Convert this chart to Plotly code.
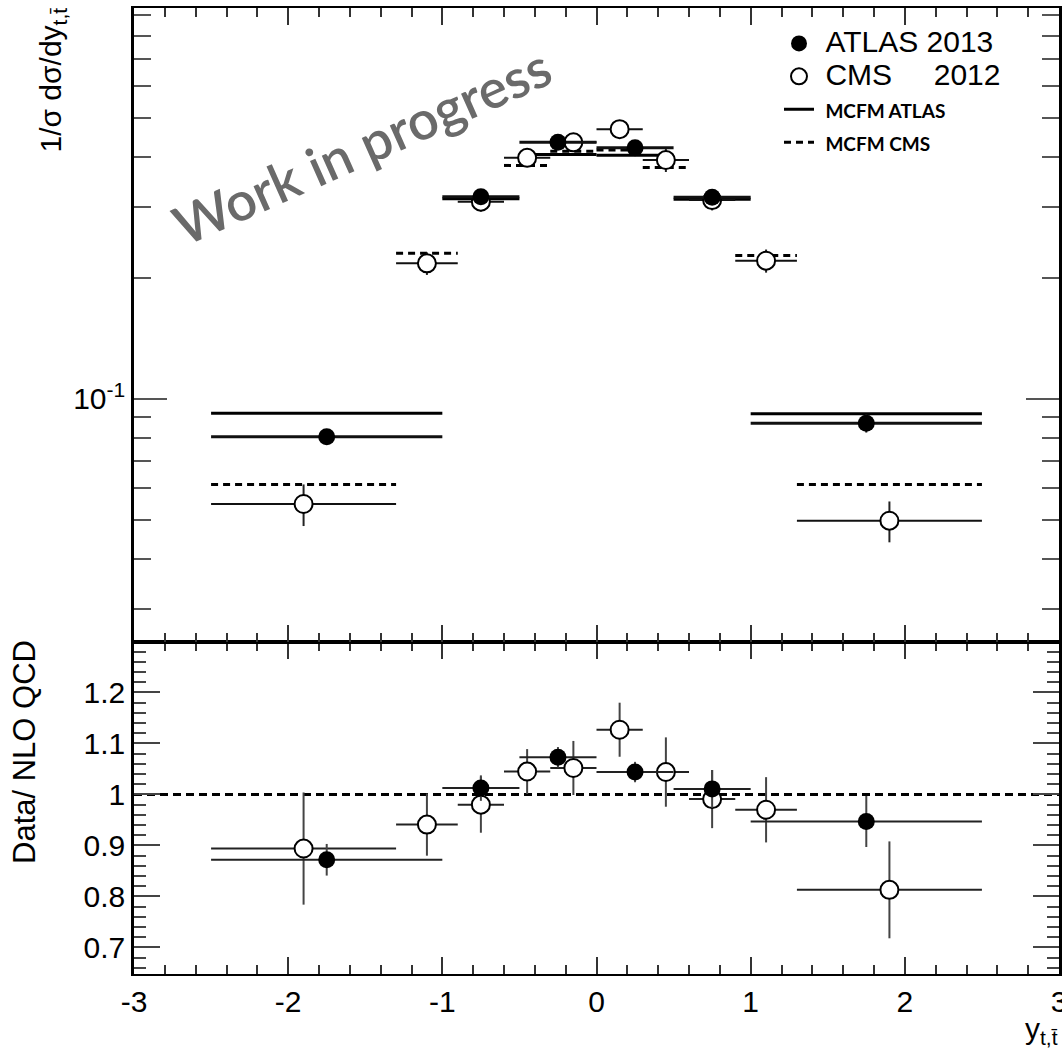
import plotly.graph_objects as go

# ---------------- ATLAS 2013 : normalised dsigma/dy(tt) ----------------
atlas_lo = [-2.5, -1.0, -0.5, 0.0, 0.5, 1.0]
atlas_hi = [-1.0, -0.5, 0.0, 0.5, 1.0, 2.5]
atlas_x = [-1.75, -0.75, -0.25, 0.25, 0.75, 1.75]
atlas_xsec = [0.0806, 0.3186, 0.4350, 0.4218, 0.3175, 0.0870]
atlas_xsec_err = [0.0029, 0.0080, 0.0090, 0.0085, 0.0115, 0.0045]
atlas_ratio = [0.872, 1.0125, 1.073, 1.044, 1.011, 0.947]
atlas_ratio_err = [0.031, 0.025, 0.020, 0.020, 0.037, 0.050]
mcfm_atlas = [0.0921, 0.3147, 0.4054, 0.4040, 0.3140, 0.0919]

# ---------------- CMS 2012 ----------------
cms_lo = [-2.5, -1.3, -0.9, -0.6, -0.3, 0.0, 0.3, 0.6, 0.9, 1.3]
cms_hi = [-1.3, -0.9, -0.6, -0.3, 0.0, 0.3, 0.6, 0.9, 1.3, 2.5]
cms_x = [-1.9, -1.1, -0.75, -0.45, -0.15, 0.15, 0.45, 0.75, 1.1, 1.9]
cms_xsec = [0.0548, 0.2175, 0.3096, 0.3980, 0.4350, 0.4690, 0.3930, 0.3125, 0.2208, 0.0498]
cms_xsec_err = [0.0065, 0.0140, 0.0170, 0.0170, 0.0220, 0.0220, 0.0260, 0.0180, 0.0146, 0.0058]
cms_ratio = [0.894, 0.941, 0.980, 1.045, 1.052, 1.127, 1.044, 0.991, 0.970, 0.813]
cms_ratio_err = [0.110, 0.061, 0.055, 0.044, 0.053, 0.053, 0.068, 0.057, 0.064, 0.095]
mcfm_cms = [0.0613, 0.2303, 0.3160, 0.3810, 0.4135, 0.4160, 0.3765, 0.3153, 0.2276, 0.0613]

# ---------------- axis ticks ----------------
x_tickvals = [-3, -2, -1, 0, 1, 2, 3]
x_ticktext = ["-3", "-2", "-1", "0", "1", "2", "3"]
x_minor = [round(-3 + 0.2 * i, 1) for i in range(31)]
ratio_tickvals = [0.7, 0.8, 0.9, 1.0, 1.1, 1.2]
ratio_ticktext = ["0.7", "0.8", "0.9", "1", "1.1", "1.2"]
ratio_minor = [round(0.66 + 0.02 * i, 2) for i in range(32)]
xsec_tickvals = [0.1]
xsec_ticktext = ["10<sup>-1</sup>"]
xsec_minor = [0.03, 0.04, 0.05, 0.06, 0.07, 0.08, 0.09,
              0.2, 0.3, 0.4, 0.5, 0.6, 0.7, 0.8, 0.9]

W, H = 1062, 1058
ML, MR, MT, MB = 134, 3, 8, 84
PW, PH = W - ML - MR, H - MT - MB
split = (H - MB - 642) / PH  # paper y of the pad boundary


def px(xp):
    return (xp - ML) / PW


def py(yp):
    return 1 - (yp - MT) / PH


def steps(lo, hi, vals):
    xs, ys = [], []
    for a, b, v in zip(lo, hi, vals):
        xs += [a, b, None]
        ys += [v, v, None]
    return xs, ys


def half_widths(x, lo, hi):
    return [h - c for c, h in zip(x, hi)], [c - l for c, l in zip(x, lo)]


FONT = "Liberation Sans, Arial, Helvetica, sans-serif"
BIG = "<span style='font-size:30px'>{}</span>"
BOLD = "<span style='font-family:Lato;font-size:19px;font-weight:900'><b>{}</b></span>"
fig = go.Figure()

# MCFM predictions (upper pad)
mx, my = steps(atlas_lo, atlas_hi, mcfm_atlas)
fig.add_trace(go.Scatter(x=mx, y=my, mode="lines", xaxis="x2", yaxis="y2",
                         line=dict(color="black", width=3),
                         name="\u00a0" + BOLD.format("MCFM ATLAS"), legendrank=3))
cx, cy = steps(cms_lo, cms_hi, mcfm_cms)
fig.add_trace(go.Scatter(x=cx, y=cy, mode="lines", xaxis="x2", yaxis="y2",
                         line=dict(color="black", width=3, dash="7px,5px"),
                         name="\u00a0" + BOLD.format("MCFM CMS"), legendrank=4))

# data points (upper pad)
cp, cm = half_widths(cms_x, cms_lo, cms_hi)
fig.add_trace(go.Scatter(x=cms_x, y=cms_xsec, mode="markers", xaxis="x2", yaxis="y2",
                         marker=dict(symbol="circle", size=18, color="white",
                                     line=dict(color="black", width=2)),
                         error_x=dict(type="data", array=cp, arrayminus=cm, symmetric=False,
                                      width=0, thickness=2, color="#111"),
                         error_y=dict(type="data", array=cms_xsec_err, width=0, thickness=2, color="#222"),
                         name="\u00a0" + BIG.format("CMS\u00a0\u00a0\u00a0\u00a0\u00a02012"), legendrank=2))
ap, am = half_widths(atlas_x, atlas_lo, atlas_hi)
fig.add_trace(go.Scatter(x=atlas_x, y=atlas_xsec, mode="markers", xaxis="x2", yaxis="y2",
                         marker=dict(symbol="circle", size=17, color="black"),
                         error_x=dict(type="data", array=ap, arrayminus=am, symmetric=False,
                                      width=0, thickness=3, color="#111"),
                         error_y=dict(type="data", array=atlas_xsec_err, width=0, thickness=2, color="#222"),
                         name="\u00a0" + BIG.format("ATLAS 2013"), legendrank=1))

# ratio pad
fig.add_trace(go.Scatter(x=cms_x, y=cms_ratio, mode="markers", xaxis="x", yaxis="y",
                         marker=dict(symbol="circle", size=18, color="white",
                                     line=dict(color="black", width=2)),
                         error_x=dict(type="data", array=cp, arrayminus=cm, symmetric=False,
                                      width=0, thickness=2, color="#222"),
                         error_y=dict(type="data", array=cms_ratio_err, width=0, thickness=2, color="#444"),
                         showlegend=False))
fig.add_trace(go.Scatter(x=atlas_x, y=atlas_ratio, mode="markers", xaxis="x", yaxis="y",
                         marker=dict(symbol="circle", size=17, color="black"),
                         error_x=dict(type="data", array=ap, arrayminus=am, symmetric=False,
                                      width=0, thickness=2, color="#222"),
                         error_y=dict(type="data", array=atlas_ratio_err, width=0, thickness=2, color="#444"),
                         showlegend=False))

# unity line in the ratio pad
fig.add_shape(type="line", xref="x domain", yref="y", x0=0, x1=1, y0=1, y1=1,
              line=dict(color="black", width=3, dash="8px,5px"), layer="below")

tickfont = dict(family=FONT, size=30, color="black")
common_x = dict(range=[-3, 3], showline=True, linecolor="black", linewidth=2,
                mirror="ticks", ticks="inside", ticklen=17, tickwidth=2, tickcolor="#333",
                tickmode="array", tickvals=x_tickvals, showgrid=False, zeroline=False,
                automargin=False,
                minor=dict(ticks="inside", ticklen=9, tickwidth=2, tickcolor="#333",
                           tickmode="array", tickvals=x_minor, showgrid=False))

fig.update_layout(
    width=W, height=H,
    margin=dict(l=ML, r=MR, t=MT, b=MB),
    paper_bgcolor="white", plot_bgcolor="white",
    font=dict(family=FONT, size=30, color="black"),
    showlegend=True,
    legend=dict(x=px(779), y=py(22), xanchor="left", yanchor="top",
                bgcolor="rgba(0,0,0,0)", borderwidth=0, tracegroupgap=0,
                font=dict(family=FONT, size=23, color="black"), itemsizing="trace"),
    xaxis=dict(domain=[0, 1], anchor="y", ticktext=x_ticktext, showticklabels=True,
               ticklabeloverflow="allow", tickfont=tickfont, **common_x),
    xaxis2=dict(domain=[0, 1], anchor="y2", matches="x", showticklabels=False, **common_x),
    yaxis=dict(domain=[0, split], anchor="x", range=[0.648, 1.299], automargin=False,
               showline=True, linecolor="black", linewidth=2.5, mirror="ticks",
               ticks="inside", ticklen=26, tickwidth=2, tickcolor="#444",
               tickmode="array", tickvals=ratio_tickvals, ticktext=ratio_ticktext,
               tickfont=tickfont, showgrid=False, zeroline=False,
               minor=dict(ticks="inside", ticklen=12, tickwidth=2, tickcolor="#444",
                          tickmode="array", tickvals=ratio_minor, showgrid=False)),
    yaxis2=dict(domain=[split, 1], anchor="x2", type="log", range=[-1.6045, -0.0274],
                automargin=False,
                showline=True, linecolor="black", linewidth=2.5, mirror="ticks",
                ticks="inside", ticklen=33, tickwidth=2, tickcolor="#555",
                tickmode="array", tickvals=xsec_tickvals, ticktext=xsec_ticktext,
                tickfont=tickfont, showgrid=False, zeroline=False,
                minor=dict(ticks="inside", ticklen=17, tickwidth=2, tickcolor="#555",
                           tickmode="array", tickvals=xsec_minor, showgrid=False)),
)

annotations = [
    dict(text="1/σ dσ/dy<sub>t,t̄</sub>", textangle=-90, xref="paper", yref="paper",
         x=px(52), y=py(6), xanchor="center", yanchor="top", showarrow=False,
         font=dict(family=FONT, size=30, color="black")),
    dict(text="Data/ NLO QCD", textangle=-90, xref="paper", yref="paper",
         x=px(24), y=py(752), xanchor="center", yanchor="middle", showarrow=False,
         font=dict(family=FONT, size=31, color="black")),
    dict(text="y<sub>t,t̄</sub>", xref="paper", yref="paper",
         x=px(1060), y=py(1030), xanchor="right", yanchor="middle", showarrow=False,
         font=dict(family=FONT, size=30, color="black")),
    dict(text="Work in progress", textangle=-24, xref="paper", yref="paper",
         x=px(362), y=py(146), xanchor="center", yanchor="middle", showarrow=False,
         font=dict(family="Lato, Open Sans, sans-serif", size=54, color="#6a6a6a", weight=600)),
]
fig.update_layout(annotations=annotations)

fig.write_html("out.html")
